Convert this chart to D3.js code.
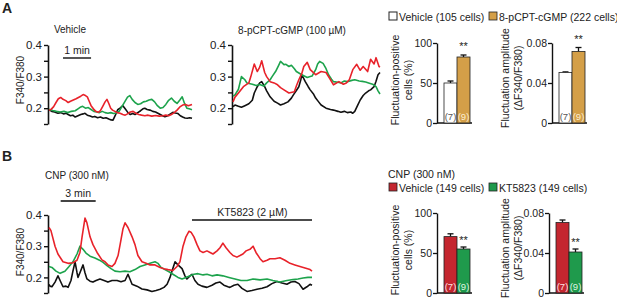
<!DOCTYPE html>
<html>
<head>
<meta charset="UTF-8">
<title>F340/F380 fluctuations</title>
<script src="https://d3js.org/d3.v7.min.js"></script>
<style>
  body { margin: 0; background: #fff; font-family: Arial, "Liberation Sans", sans-serif; }
  svg text { fill: #222; }
  .axis path, .axis line { stroke: #111; }
  .axis text { fill: #222; }
</style>
</head>
<body>
<svg width="617" height="300"></svg>
<script>
// ---- traces, [time (s), F340/F380] ----
// A, vehicle
const vehRed = [[0,.193],[5,.197],[10,.205],[15,.218],[20,.23],[25,.234],[30,.228],[36,.224],[41,.218],[46,.222],[52,.226],[58,.23],[63,.234],[68,.238],[73,.243],[78,.24],[82,.236],[86,.222],[90,.208],[95,.198],[100,.19],[105,.187],[110,.192],[115,.206],[120,.22],[124,.228],[128,.215],[132,.2],[136,.194],[141,.19],[146,.186],[152,.184],[158,.18],[163,.178],[168,.182],[174,.188],[180,.19],[186,.184],[192,.18],[198,.178],[205,.176],[212,.178],[220,.175],[228,.177],[236,.175],[244,.176],[250,.178],[256,.176],[262,.18],[268,.186],[274,.194],[280,.204],[286,.21],[292,.212],[298,.208],[306,.212]];
const vehGreen = [[0,.197],[8,.193],[16,.19],[24,.188],[32,.19],[40,.186],[48,.19],[56,.192],[62,.198],[68,.204],[72,.206],[78,.2],[84,.202],[90,.196],[96,.19],[102,.188],[108,.186],[114,.19],[120,.186],[126,.184],[132,.186],[138,.183],[144,.185],[150,.19],[156,.205],[162,.22],[168,.235],[173,.24],[178,.228],[184,.218],[190,.212],[196,.214],[202,.22],[208,.222],[214,.226],[220,.228],[226,.22],[232,.208],[238,.2],[244,.202],[250,.212],[256,.225],[262,.232],[268,.222],[274,.215],[280,.226],[285,.236],[290,.215],[295,.2],[300,.198],[306,.195]];
const vehBlack = [[0,.195],[6,.19],[12,.188],[19,.184],[25,.186],[31,.182],[37,.184],[41,.18],[46,.176],[51,.178],[56,.172],[62,.176],[68,.18],[73,.182],[77,.184],[82,.178],[88,.175],[93,.172],[98,.174],[104,.17],[110,.172],[116,.168],[122,.17],[128,.166],[133,.163],[137,.162],[142,.178],[147,.195],[152,.2],[158,.208],[163,.198],[169,.186],[174,.18],[179,.183],[184,.18],[190,.186],[196,.192],[201,.198],[205,.2],[210,.196],[216,.194],[222,.19],[228,.188],[233,.184],[238,.18],[243,.176],[248,.173],[254,.176],[260,.182],[265,.187],[270,.185],[276,.183],[281,.176],[286,.172],[291,.169],[296,.168],[301,.17],[306,.168]];
// A, 8-pCPT-cGMP
const cgRed = [[0,.22],[4,.235],[11,.248],[21,.268],[32,.28],[36,.3],[43,.34],[49,.316],[54,.33],[58,.35],[64,.313],[68,.3],[75,.284],[83,.28],[90,.274],[96,.265],[103,.258],[113,.248],[124,.252],[128,.27],[133,.29],[139,.31],[143,.332],[150,.345],[156,.322],[167,.306],[178,.316],[188,.313],[197,.29],[203,.274],[214,.284],[223,.276],[229,.28],[235,.29],[242,.322],[250,.339],[257,.32],[263,.332],[272,.316],[278,.355],[285,.34],[289,.36],[295,.332],[297,.33]];
const cgGreen = [[0,.238],[4,.242],[11,.26],[17,.3],[24,.29],[28,.28],[39,.276],[47,.272],[54,.275],[62,.27],[68,.28],[75,.29],[79,.3],[86,.316],[92,.335],[96,.348],[103,.338],[107,.339],[113,.332],[118,.336],[124,.325],[128,.316],[139,.306],[150,.297],[156,.3],[160,.302],[167,.322],[171,.34],[175,.348],[182,.342],[188,.325],[193,.306],[199,.292],[203,.284],[212,.282],[218,.28],[225,.286],[231,.284],[240,.288],[246,.29],[255,.286],[261,.285],[268,.283],[274,.28],[282,.276],[289,.268],[293,.255],[297,.245]];
const cgBlack = [[0,.205],[4,.21],[11,.206],[17,.203],[24,.208],[32,.214],[39,.225],[43,.248],[49,.268],[54,.28],[58,.284],[64,.268],[68,.255],[75,.236],[83,.222],[90,.216],[96,.21],[103,.214],[111,.22],[118,.232],[122,.242],[128,.256],[133,.268],[137,.29],[139,.306],[146,.284],[152,.268],[156,.258],[163,.244],[167,.232],[173,.22],[178,.21],[188,.2],[197,.196],[203,.194],[212,.19],[218,.187],[225,.19],[231,.186],[238,.188],[242,.184],[246,.19],[252,.21],[257,.226],[263,.24],[268,.248],[274,.255],[278,.258],[285,.268],[289,.285],[293,.306],[297,.313]];
// B, CNP then KT5823
const cnpRed = [[0,.36],[10,.35],[31,.3],[46,.275],[72,.25],[98,.245],[123,.247],[144,.255],[159,.28],[170,.33],[185,.39],[195,.375],[211,.33],[226,.305],[247,.28],[272,.256],[288,.25],[303,.24],[324,.235],[339,.245],[355,.27],[370,.32],[380,.355],[391,.375],[406,.36],[427,.33],[442,.305],[457,.27],[478,.25],[499,.245],[519,.24],[545,.24],[571,.232],[591,.228],[612,.225],[637,.222],[658,.235],[673,.25],[689,.3],[704,.33],[720,.348],[730,.345],[745,.33],[761,.305],[776,.285],[792,.28],[812,.285],[828,.28],[843,.275],[864,.285],[879,.295],[894,.31],[910,.295],[930,.28],[946,.27],[966,.265],[982,.27],[997,.275],[1013,.285],[1033,.29],[1049,.3],[1064,.28],[1085,.26],[1100,.25],[1121,.255],[1136,.26],[1162,.26],[1187,.263],[1213,.255],[1239,.245],[1264,.24],[1290,.235],[1316,.23],[1342,.225],[1352,.22]];
const cnpGreen = [[0,.235],[15,.232],[36,.22],[57,.213],[82,.22],[103,.235],[123,.25],[144,.275],[159,.3],[175,.29],[190,.278],[211,.268],[236,.262],[257,.256],[278,.248],[298,.238],[319,.228],[339,.22],[365,.218],[391,.22],[416,.218],[442,.225],[468,.235],[493,.24],[519,.245],[545,.25],[560,.245],[576,.232],[596,.225],[617,.218],[637,.21],[663,.2],[684,.195],[704,.2],[725,.205],[745,.21],[766,.212],[792,.208],[812,.21],[838,.205],[864,.208],[894,.205],[925,.2],[956,.195],[987,.19],[1018,.19],[1049,.195],[1085,.192],[1121,.195],[1151,.19],[1187,.185],[1223,.19],[1254,.193],[1280,.195],[1306,.198],[1331,.2],[1352,.2]];
const cnpBlack = [[0,.178],[5,.172],[15,.17],[31,.185],[46,.205],[57,.19],[72,.17],[87,.172],[98,.168],[113,.19],[123,.22],[134,.25],[144,.215],[149,.2],[159,.215],[175,.24],[185,.215],[195,.195],[211,.188],[226,.185],[242,.19],[262,.195],[283,.19],[303,.185],[324,.19],[350,.19],[370,.186],[391,.19],[406,.21],[416,.195],[427,.178],[452,.172],[478,.163],[504,.16],[529,.155],[550,.158],[571,.162],[591,.168],[607,.178],[622,.2],[632,.22],[648,.25],[663,.24],[684,.228],[699,.205],[709,.195],[725,.205],[735,.21],[750,.19],[766,.178],[786,.172],[812,.168],[838,.175],[858,.182],[879,.185],[899,.175],[920,.17],[930,.168],[951,.175],[971,.178],[992,.165],[1018,.155],[1043,.158],[1069,.162],[1095,.165],[1121,.17],[1146,.18],[1172,.187],[1198,.182],[1223,.178],[1244,.185],[1264,.187],[1285,.18],[1306,.162],[1326,.17],[1342,.178],[1352,.175]];

const ratioTicks = [0.15, 0.2, 0.25, 0.3, 0.35, 0.4];
const ratioLabels = [0.2, 0.3, 0.4];

// ---- summary bars ----
const groupsA = ["Vehicle (105 cells)", "8-pCPT-cGMP (222 cells)"];
const groupsB = ["Vehicle (149 cells)", "KT5823 (149 cells)"];
const nExp = ["(7)", "(9)"];
const posA = [50, 82.5], posErrA = [2.5, 2.5];
const ampA = [0.0505, 0.0715], ampErrA = [0.0006, 0.004];
const posB = [70.5, 55], posErrB = [3.5, 2.5];
const ampB = [0.0705, 0.041], ampErrB = [0.0025, 0.003];
const posTicks = [0, 50, 100];
const ampTicks = [0, 0.04, 0.08];

const colRed = "#e8222a", colGreen = "#1da34c", colBlack = "#111";
const fillA = ["#ffffff", "#d49f48"];
const fillB = ["#c4262f", "#1f9a4c"];
const numColA = ["#555", "#fbeed2"];
const numColB = ["#fde2e2", "#def5e2"];

const svg = d3.select("svg");

function tracePanel(series, t0, t1, x0, x1, yTop, yBot) {
    const x = d3.scaleLinear().domain([t0, t1]).range([x0, x1]);
    const y = d3.scaleLinear().domain([0.15, 0.4]).range([yBot, yTop]);
    const ax = svg.append("g").attr("class", "axis")
        .attr("transform", `translate(${x0 - 1},0)`)
        .call(d3.axisLeft(y).tickValues(ratioTicks).tickSize(4).tickSizeOuter(0)
            .tickFormat(d => ratioLabels.some(v => Math.abs(v - d) < 1e-9) ? d3.format(".1f")(d) : ""));
    ax.select(".domain").attr("stroke-width", 1.6);
    ax.selectAll(".tick line").attr("stroke-width", 1.4);
    ax.selectAll("text").style("font-size", "11.5px").attr("x", -6);
    const line = d3.line().x(d => x(d[0])).y(d => y(d[1]));
    series.forEach(s => {
        svg.append("path").datum(s.data)
            .attr("d", line).attr("fill", "none")
            .attr("stroke", s.color).attr("stroke-width", 1.6)
            .attr("stroke-linejoin", "round");
    });
    return x;
}

function barPanel(vals, errs, ticks, fmt, fills, numCols, axisX, yTop, yBot, starAbove) {
    const y = d3.scaleLinear().domain([0, ticks[ticks.length - 1]]).range([yBot, yTop]);
    const x = d3.scaleBand().domain([0, 1]).range([axisX + 7, axisX + 33]);
    const ax = svg.append("g").attr("class", "axis")
        .attr("transform", `translate(${axisX},0)`)
        .call(d3.axisLeft(y).tickValues(ticks).tickSize(4).tickSizeOuter(0).tickFormat(fmt));
    ax.select(".domain").attr("stroke-width", 1.4);
    ax.selectAll(".tick line").attr("stroke-width", 1.3);
    ax.selectAll("text").style("font-size", "10.5px").attr("x", -5);
    svg.append("line").attr("x1", axisX).attr("x2", axisX + 35)
        .attr("y1", yBot).attr("y2", yBot).attr("stroke", "#111").attr("stroke-width", 1.4);
    vals.forEach((v, i) => {
        const cx = x(i) + x.bandwidth() / 2;
        svg.append("line").attr("x1", cx).attr("x2", cx)
            .attr("y1", y(v)).attr("y2", y(v + errs[i])).attr("stroke", "#111").attr("stroke-width", 1.3);
        svg.append("line").attr("x1", cx - 3).attr("x2", cx + 3)
            .attr("y1", y(v + errs[i])).attr("y2", y(v + errs[i])).attr("stroke", "#111").attr("stroke-width", 1.3);
        svg.append("rect").attr("x", x(i)).attr("y", y(v))
            .attr("width", x.bandwidth()).attr("height", yBot - y(v))
            .attr("fill", fills[i]).attr("stroke", "#222").attr("stroke-width", 0.8);
        svg.append("text").attr("x", cx).attr("y", yBot - 3).attr("text-anchor", "middle")
            .style("font-size", "9.5px").style("fill", numCols[i]).text(nExp[i]);
    });
    const sx = x(1) + x.bandwidth() / 2;
    svg.append("text").attr("x", sx).attr("y", y(vals[1] + errs[1]) - starAbove)
        .attr("text-anchor", "middle").style("font-size", "11px").text("**");
}

function vLabel(lines, xs, yc, size) {
    lines.forEach((t, i) => {
        svg.append("text").attr("transform", `translate(${xs[i]},${yc}) rotate(-90)`)
            .attr("text-anchor", "middle").style("font-size", size + "px").text(t);
    });
}

function txt(x, y, t, size, anchor, weight) {
    return svg.append("text").attr("x", x).attr("y", y).attr("text-anchor", anchor || "start")
        .style("font-size", size + "px").style("font-weight", weight || "normal").text(t);
}

// ---- panel A ----
txt(2, 13, "A", 14, "start", "bold");
txt(70, 33, "Vehicle", 10, "middle");
const xVeh = tracePanel([
    { data: vehBlack, color: colBlack }, { data: vehGreen, color: colGreen }, { data: vehRed, color: colRed }
], 0, 306, 49, 192, 45, 124);
svg.append("line").attr("x1", xVeh(30)).attr("x2", xVeh(90)).attr("y1", 58).attr("y2", 58)
    .attr("stroke", "#444").attr("stroke-width", 1.8);
txt(xVeh(60), 54, "1 min", 10.5, "middle");
vLabel(["F340/F380"], [24], 80, 10);

txt(292, 34, "8-pCPT-cGMP (100 µM)", 10, "middle");
tracePanel([
    { data: cgBlack, color: colBlack }, { data: cgGreen, color: colGreen }, { data: cgRed, color: colRed }
], 0, 297, 233, 380, 45, 124);

// legend A
svg.append("rect").attr("x", 389).attr("y", 12).attr("width", 8).attr("height", 8)
    .attr("fill", fillA[0]).attr("stroke", "#222").attr("stroke-width", 1);
txt(399, 20.5, groupsA[0], 10.5);
svg.append("rect").attr("x", 489).attr("y", 12).attr("width", 8).attr("height", 8)
    .attr("fill", fillA[1]).attr("stroke", "#222").attr("stroke-width", 0.8);
txt(499, 20.5, groupsA[1], 10.5);

barPanel(posA, posErrA, posTicks, d => d, fillA, numColA, 437, 43, 123, 5);
vLabel(["Fluctuation-positive", "cells (%)"], [399, 412], 80, 10.5);
barPanel(ampA, ampErrA, ampTicks, d => d === 0 ? "0" : d3.format(".2f")(d), fillA, numColA, 552, 43, 123, 5);
vLabel(["Fluctuation amplitude", "(ΔF340/F380)"], [509, 522], 78, 10.5);

// ---- panel B ----
txt(2, 161, "B", 14, "start", "bold");
txt(45, 179, "CNP (300 nM)", 10, "start");
const xCnp = tracePanel([
    { data: cnpBlack, color: colBlack }, { data: cnpGreen, color: colGreen }, { data: cnpRed, color: colRed }
], 0, 1352, 49, 312, 215, 293);
svg.append("line").attr("x1", xCnp(60)).attr("x2", xCnp(240)).attr("y1", 201).attr("y2", 201)
    .attr("stroke", "#444").attr("stroke-width", 1.8);
txt(xCnp(150), 197, "3 min", 10.5, "middle");
svg.append("line").attr("x1", xCnp(735)).attr("x2", xCnp(1352)).attr("y1", 220).attr("y2", 220)
    .attr("stroke", "#111").attr("stroke-width", 1.4);
txt(xCnp(1045), 216, "KT5823 (2 µM)", 10.5, "middle");
vLabel(["F340/F380"], [24], 252, 10);

// legend B
txt(388, 178, "CNP (300 nM)", 10.5);
svg.append("rect").attr("x", 389).attr("y", 183).attr("width", 8).attr("height", 8)
    .attr("fill", fillB[0]).attr("stroke", "#222").attr("stroke-width", 0.8);
txt(399, 191.5, groupsB[0], 10.5);
svg.append("rect").attr("x", 489).attr("y", 183).attr("width", 8).attr("height", 8)
    .attr("fill", fillB[1]).attr("stroke", "#222").attr("stroke-width", 0.8);
txt(499, 191.5, groupsB[1], 10.5);

barPanel(posB, posErrB, posTicks, d => d, fillB, numColB, 437, 213, 293, 3);
vLabel(["Fluctuation-positive", "cells (%)"], [399, 412], 250, 10.5);
barPanel(ampB, ampErrB, ampTicks, d => d === 0 ? "0" : d3.format(".2f")(d), fillB, numColB, 549, 213, 293, 3);
vLabel(["Fluctuation amplitude", "(ΔF340/F380)"], [509, 522], 248, 10.5);
</script>
</body>
</html>
